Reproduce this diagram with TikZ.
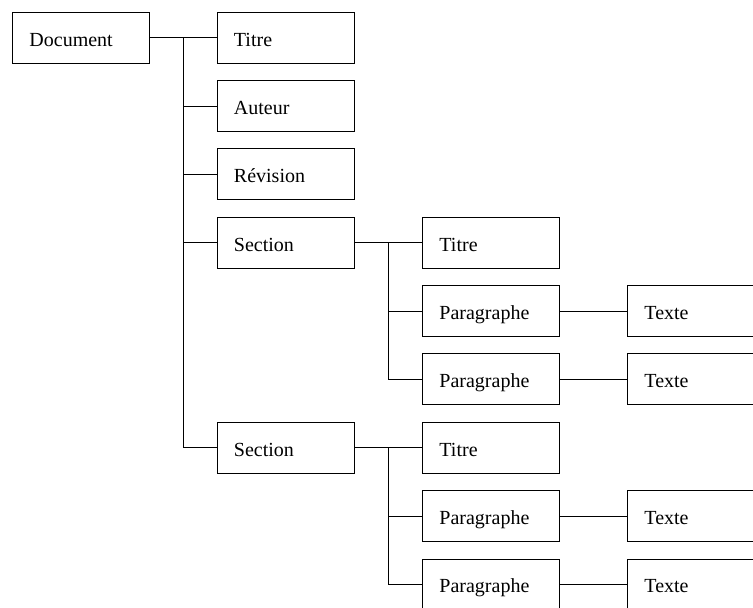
\documentclass[tikz,border=0pt]{standalone}
\usepackage{fontspec}
\setmainfont{Liberation Serif}
\begin{document}
\begin{tikzpicture}[x=1pt,y=-1pt,
  box/.style={draw, line width=0.9pt, rectangle, minimum width=137pt, minimum height=51pt,
    text width=103pt, text height=17pt, text depth=0pt, inner xsep=17pt, inner ysep=0pt,
    align=left, anchor=north west, font=\fontsize{20}{24}\selectfont},
  link/.style={line width=0.9pt}]
\useasboundingbox (0,0) rectangle (753,608);
\clip (0,0) rectangle (753,608);
\def\ry#1{11.7+68.35*#1}
% column 0
\node[box] (doc) at (12,{\ry{0}}) {Document};
% column 1
\node[box] (t1) at (216.5,{\ry{0}}) {Titre};
\node[box] (aut) at (216.5,{\ry{1}}) {Auteur};
\node[box] (rev) at (216.5,{\ry{2}}) {Révision};
\node[box] (sec1) at (216.5,{\ry{3}}) {Section};
\node[box] (sec2) at (216.5,{\ry{6}}) {Section};
% column 2
\node[box] (s1t) at (422,{\ry{3}}) {Titre};
\node[box] (s1p1) at (422,{\ry{4}}) {Paragraphe};
\node[box] (s1p2) at (422,{\ry{5}}) {Paragraphe};
\node[box] (s2t) at (422,{\ry{6}}) {Titre};
\node[box] (s2p1) at (422,{\ry{7}}) {Paragraphe};
\node[box] (s2p2) at (422,{\ry{8}}) {Paragraphe};
% column 3
\node[box] (x1) at (627,{\ry{4}}) {Texte};
\node[box] (x2) at (627,{\ry{5}}) {Texte};
\node[box] (x3) at (627,{\ry{7}}) {Texte};
\node[box] (x4) at (627,{\ry{8}}) {Texte};
% junctions
\coordinate (j0) at (183,{\ry{0}+25.5});
\coordinate (j1) at (388,{\ry{3}+25.5});
\coordinate (j2) at (388,{\ry{6}+25.5});
% connectors
\draw[link] (doc.east) -- (t1.west);
\draw[link] (j0) |- (aut.west);
\draw[link] (j0) |- (rev.west);
\draw[link] (j0) |- (sec1.west);
\draw[link] (j0) |- (sec2.west);
\draw[link] (sec1.east) -- (s1t.west);
\draw[link] (j1) |- (s1p1.west);
\draw[link] (j1) |- (s1p2.west);
\draw[link] (sec2.east) -- (s2t.west);
\draw[link] (j2) |- (s2p1.west);
\draw[link] (j2) |- (s2p2.west);
\draw[link] (s1p1.east) -- (x1.west);
\draw[link] (s1p2.east) -- (x2.west);
\draw[link] (s2p1.east) -- (x3.west);
\draw[link] (s2p2.east) -- (x4.west);
\end{tikzpicture}
\end{document}
